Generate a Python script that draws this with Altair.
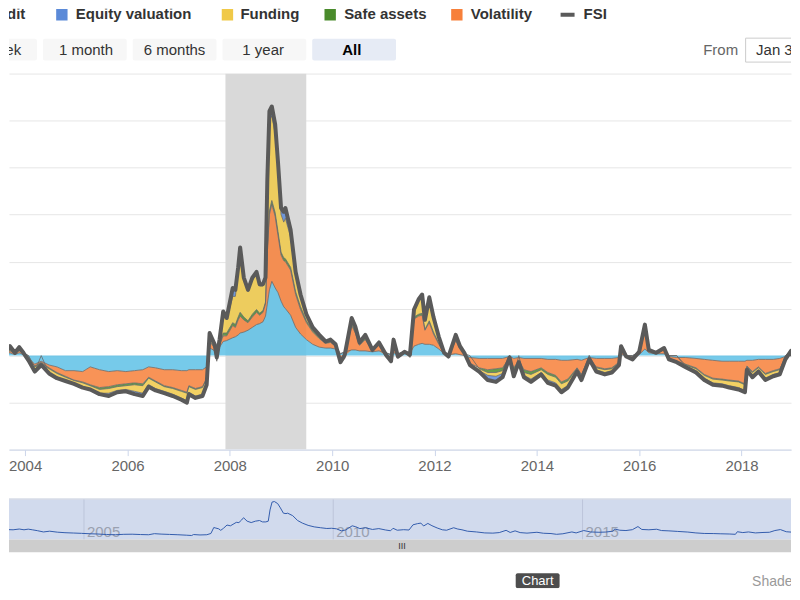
import altair as alt
import pandas as pd

# ---------------- data ----------------
dates = [
    # 2003
    "2003-06-15", "2003-08-01", "2003-09-15", "2003-10-20", "2003-11-20", "2003-12-20",
    # 2004
    "2004-01-25", "2004-03-10", "2004-04-25", "2004-06-20", "2004-08-15", "2004-10-15", "2004-12-15",
    # 2005
    "2005-02-15", "2005-04-10", "2005-06-15", "2005-08-20", "2005-10-20", "2005-12-20",
    # 2006
    "2006-02-20", "2006-04-20", "2006-06-01", "2006-07-20", "2006-09-20", "2006-11-20",
    # 2007
    "2007-01-20", "2007-03-01", "2007-03-15", "2007-05-01", "2007-06-20", "2007-07-20", "2007-08-10",
    "2007-08-25", "2007-09-15", "2007-09-30", "2007-10-20", "2007-11-15", "2007-12-10",
    # 2008
    "2008-01-22", "2008-02-10", "2008-03-01", "2008-03-15", "2008-04-10", "2008-05-10", "2008-06-10",
    "2008-07-10", "2008-08-01", "2008-08-25", "2008-09-12", "2008-09-25", "2008-10-10", "2008-10-27",
    "2008-11-20", "2008-12-10",
    # 2009
    "2009-01-01", "2009-01-20", "2009-02-01", "2009-03-10", "2009-04-15", "2009-05-20", "2009-07-01",
    "2009-08-15", "2009-10-01", "2009-11-15", "2009-12-20",
    # 2010
    "2010-01-25", "2010-03-01", "2010-04-01", "2010-05-20", "2010-06-15", "2010-07-15", "2010-08-25",
    "2010-10-15", "2010-12-01",
    # 2011
    "2011-01-20", "2011-02-25", "2011-03-15", "2011-04-15", "2011-06-01", "2011-07-10", "2011-08-08",
    "2011-09-10", "2011-10-05", "2011-10-25", "2011-11-25", "2011-12-25",
    # 2012
    "2012-02-01", "2012-03-10", "2012-04-10", "2012-06-01", "2012-07-01", "2012-08-01", "2012-09-10",
    "2012-11-15",
    # 2013
    "2013-01-15", "2013-03-15", "2013-05-01", "2013-06-20", "2013-07-20", "2013-08-25", "2013-10-01",
    "2013-11-20",
    # 2014
    "2014-02-01", "2014-03-20", "2014-05-15", "2014-06-25", "2014-08-10", "2014-10-15", "2014-11-15",
    # 2015
    "2015-01-10", "2015-03-01", "2015-05-01", "2015-06-20", "2015-08-10", "2015-08-25", "2015-10-01",
    "2015-11-15",
    # 2016
    "2016-01-01", "2016-02-11", "2016-03-10", "2016-05-01", "2016-06-27", "2016-08-01", "2016-09-25",
    "2016-11-25",
    # 2017
    "2017-02-10", "2017-04-10", "2017-06-10", "2017-08-15", "2017-10-05", "2017-12-10",
    # 2018
    "2018-01-25", "2018-02-08", "2018-03-20", "2018-05-01", "2018-06-20", "2018-08-15", "2018-10-01",
    "2018-11-10", "2018-12-20",
    # 2019
    "2019-02-01", "2019-03-15", "2019-04-30",
]

credit = [
    0.1, 0.1, 0.3, 0.1, 0.3, 0.1,
    -0.3, -0.9, -0.6, -1.0, -1.2, -1.6, -1.6,
    -1.7, -1.2, -1.5, -1.7, -1.6, -1.7,
    -1.6, -1.5, -1.2, -1.3, -1.5, -1.5,
    -1.6, -1.6, -1.5, -1.5, -1.5, -1.2, 0.8, 0.7, 0.5, 0.2, 0.9, 1.5, 1.6,
    1.9, 2.0, 2.2, 2.4, 2.5, 2.7, 3.0, 3.3, 3.4, 3.6, 4.2, 5.5, 7.0, 7.9, 7.2, 6.7,
    5.8, 5.2, 5.0, 4.3, 3.0, 2.3, 1.7, 1.2, 0.9, 0.8, 0.8,
    0.7, 0.2, 0.4, 0.6, 0.6, 0.5, 0.5, 0.4, 0.5,
    0.3, 0.1, 0.3, 0.2, 0.3, 0.3, 1.0, 1.2, 1.3, 1.2, 1.2, 1.1,
    0.7, 0.2, 0.1, 0.2, 0.1, 0.0, -0.2, -0.3,
    -0.3, -0.3, -0.3, -0.1, -0.3, -0.2, -0.3, -0.3,
    -0.3, -0.4, -0.4, -0.5, -0.5, -0.4, -0.5,
    -0.2, -0.3, -0.3, -0.3, -0.2, 0.1, 0.0, -0.1,
    0.1, 0.7, 0.3, 0.2, 0.2, -0.1, -0.2, -0.2,
    -0.3, -0.4, -0.5, -0.6, -0.6, -0.6,
    -0.6, -0.5, -0.5, -0.4, -0.4, -0.4, -0.3, -0.1, 0.1,
    -0.3, -0.4, -0.3,
]

equity_valuation = [
    0.05, 0.0, 0.1, 0.0, 0.1, 0.0,
    0.0, -0.1, 0.0, -0.1, -0.1, -0.1, -0.05,
    -0.1, -0.1, -0.1, -0.3, -0.2, -0.2,
    -0.3, -0.3, -0.2, -0.2, -0.2, -0.2,
    -0.2, -0.2, -0.2, -0.2, -0.2, -0.1, 0.1, 0.1, 0.0, 0.0, 0.0, 0.2, 0.2,
    0.9, 0.7, 0.5, 0.6, 0.3, 0.2, 0.3, 0.3, 0.2, 0.2, 0.2, 0.5, 1.0, 1.0, 1.0, 0.7,
    0.7, 1.1, 1.1, 0.8, 0.4, 0.3, 0.2, 0.1, 0.1, 0.0, 0.0,
    0.0, -0.1, 0.0, 0.2, 0.2, 0.0, 0.1, 0.0, 0.0,
    0.0, -0.1, 0.1, 0.0, 0.0, 0.0, 0.3, 0.2, 0.2, 0.1, 0.2, 0.1,
    0.1, 0.0, 0.0, 0.1, 0.0, 0.0, -0.1, -0.1,
    -0.5, -0.6, -0.4, 0.0, -0.3, 0.0, -0.2, -0.3,
    -0.2, -0.3, -0.3, -0.3, -0.2, -0.1, -0.2,
    0.0, -0.2, -0.2, -0.2, -0.1, 0.05, 0.0, 0.0,
    0.0, 0.2, 0.0, 0.0, 0.0, 0.0, 0.0, -0.1,
    -0.2, -0.2, -0.2, -0.2, -0.2, -0.2,
    -0.2, -0.1, -0.2, -0.2, -0.2, -0.2, -0.2, 0.0, 0.0,
    -0.1, -0.1, -0.1,
]

funding = [
    0.15, 0.1, 0.3, 0.1, 0.2, 0.1,
    -0.1, -0.4, -0.2, -0.4, -0.4, -0.3, -0.3,
    -0.4, -0.3, -0.4, -0.5, -0.4, -0.4,
    -0.7, -0.8, -0.7, -0.7, -0.5, -0.6,
    -0.7, -0.8, -0.6, -0.7, -0.7, -0.5, 0.6, 0.5, 0.3, 0.2, 0.5, 2.1, 1.4,
    2.8, 3.0, 4.8, 6.3, 3.9, 3.1, 3.6, 3.7, 2.9, 2.6, 2.4, 6.8, 9.6, 9.0, 8.4, 6.7,
    4.0, 3.8, 4.3, 3.2, 1.7, 1.0, 0.5, 0.2, 0.1, 0.1, 0.2,
    0.1, -0.2, -0.1, 0.4, 0.3, 0.2, 0.2, 0.05, 0.2,
    0.0, -0.1, 0.2, -0.1, 0.0, -0.1, 0.5, 1.4, 1.8, 0.9, 2.3, 1.5,
    0.6, 0.1, -0.1, 0.4, 0.2, 0.1, -0.1, -0.2,
    -0.3, -0.4, -0.3, 0.0, -0.3, -0.1, -0.3, -0.5,
    -0.3, -0.6, -0.6, -0.6, -0.5, -0.2, -0.3,
    -0.1, -0.2, -0.3, -0.2, -0.1, 0.1, 0.0, -0.1,
    0.1, 0.4, 0.1, 0.0, 0.1, -0.1, -0.1, -0.1,
    -0.2, -0.3, -0.4, -0.4, -0.5, -0.6,
    -0.6, -0.2, -0.3, -0.2, -0.4, -0.3, -0.3, -0.1, 0.1,
    -0.2, -0.3, -0.2,
]

safe_assets = [
    0.05, 0.05, 0.1, 0.0, 0.1, 0.0,
    0.0, -0.1, -0.1, -0.1, -0.1, -0.1, -0.05,
    -0.1, -0.1, -0.2, -0.2, -0.2, -0.2,
    -0.2, -0.2, -0.1, -0.1, -0.1, -0.1,
    -0.1, -0.1, -0.1, -0.1, -0.1, -0.1, 0.1, 0.1, 0.1, 0.0, 0.1, 0.3, 0.3,
    0.3, 0.3, 0.3, 0.4, 0.3, 0.2, 0.3, 0.3, 0.2, 0.2, 0.2, 0.4, 0.4, 0.4, 0.4, 0.4,
    0.3, 0.3, 0.3, 0.3, 0.3, 0.3, 0.2, 0.2, 0.2, 0.1, 0.1,
    0.1, 0.0, 0.0, 0.2, 0.2, 0.1, 0.2, 0.05, 0.1,
    0.0, 0.0, 0.1, 0.0, 0.0, 0.0, 0.2, 0.2, 0.2, 0.1, 0.2, 0.2,
    0.1, 0.0, 0.0, 0.1, 0.1, 0.0, 0.0, -0.1,
    -0.3, -0.4, -0.3, 0.0, -0.3, -0.1, -0.3, -0.3,
    -0.2, -0.2, -0.2, -0.2, -0.2, -0.1, -0.1,
    0.0, -0.1, -0.1, -0.1, -0.1, 0.05, 0.0, 0.0,
    0.0, 0.2, 0.0, 0.0, 0.1, 0.0, 0.0, -0.1,
    -0.1, -0.1, -0.1, -0.1, -0.1, -0.1,
    -0.1, -0.1, -0.1, -0.1, -0.1, -0.1, -0.1, 0.0, 0.0,
    -0.1, -0.1, -0.1,
]

volatility = [
    0.15, 0.05, 0.2, 0.1, 0.2, 0.1,
    -0.1, -0.2, -0.1, -0.3, -0.6, -0.6, -1.0,
    -1.1, -1.9, -1.9, -1.6, -1.5, -1.3,
    -1.3, -1.5, -1.1, -1.4, -1.7, -1.9,
    -2.1, -2.3, -1.7, -2.0, -1.8, -1.2, 0.8, 0.5, 0.3, -0.6, 0.2, 0.6, 0.5,
    1.3, 1.0, 1.6, 1.8, 1.3, 0.8, 1.1, 1.3, 0.9, 1.0, 1.3, 5.5, 8.0, 8.2, 7.6, 6.1,
    4.9, 4.9, 5.0, 4.8, 3.5, 2.6, 1.8, 1.3, 0.9, 0.5, 0.6,
    0.3, -0.6, -0.2, 2.6, 1.8, 0.6, 1.2, 0.1, 0.6,
    -0.2, -0.5, 1.0, -0.2, 0.1, -0.1, 2.9, 3.0, 3.0, 1.5, 2.3, 1.2,
    0.5, 0.0, -0.1, 1.4, 0.6, 0.2, -0.6, -1.0,
    -1.2, -1.1, -1.0, -0.1, -1.0, -0.3, -1.2, -1.4,
    -1.0, -1.4, -1.7, -2.3, -2.0, -0.9, -1.5,
    -0.1, -0.9, -1.1, -1.0, -0.5, 0.7, -0.1, -0.2,
    0.2, 1.8, 0.2, 0.1, 0.4, -0.2, -0.4, -0.7,
    -1.0, -1.6, -1.9, -1.9, -2.0, -2.1,
    -2.4, -0.6, -1.2, -0.8, -1.5, -1.2, -1.1, -0.2, 0.3,
    -0.8, -1.0, -0.8,
]

series_names = ["Credit", "Equity valuation", "Funding", "Safe assets", "Volatility"]
series_values = [credit, equity_valuation, funding, safe_assets, volatility]
stack_rank = [0, 4, 3, 2, 1]          # distance of each layer from the zero line
fsi_name = "FSI"

recession_start = ["2007-12-01"]
recession_end = ["2009-06-30"]

main_year_ticks = [2004, 2006, 2008, 2010, 2012, 2014, 2016, 2018]
nav_year_labels = [2005, 2010, 2015]

range_buttons = ["1 week", "1 month", "6 months", "1 year", "All"]
selected_button = "All"
from_label = "From"
from_value = "Jan 3, 2000"
footer_button = "Chart"
footer_note = "Shade"
scroll_grip = "III"

for arr in series_values:
    assert len(arr) == len(dates)

# ---------------- styles / layout ----------------
FONT = "Liberation Sans"
series_colors = ["#5ec1e6", "#5b8ad8", "#f0c948", "#4a8b2c", "#f7803a"]
fsi_color = "#5a5a5a"
W = 784                      # page x 8 .. 792
H_HEAD, H_MAIN, H_NAV = 65, 377, 139   # page y 8..73, 73..450, 450..589
NO_STROKE = "transparent"

# legend layout (pixel positions in the header strip)
legend_symbol_x = [-39, 53, 219, 322, 449]
legend_text_x = [-27, 67, 232, 336, 463]
legend_fsi_line = (553, 567)
legend_fsi_text_x = 576

# ---------------- frames ----------------
rows = []
for name, rank, vals in zip(series_names, stack_rank, series_values):
    for d, v in zip(dates, vals):
        rows.append({"date": d, "series": name, "rank": rank, "value": v})
long_df = pd.DataFrame(rows)
fsi_df = pd.DataFrame({"date": dates, "fsi": [round(sum(t), 3) for t in zip(*series_values)]})
rec_df = pd.DataFrame({"start": recession_start, "end": recession_end})

# ---------------- main panel ----------------
x_main = alt.Scale(domain=[alt.DateTime(year=2003, month=9, date=8),
                           alt.DateTime(year=2018, month=12, date=20)])
y_main = alt.Scale(domain=[-10, 30], nice=False, zero=False)
x_axis = alt.Axis(values=[alt.DateTime(year=y, month=1, date=1) for y in main_year_ticks],
                  format="%Y", title=None, grid=False, labelColor="#666666", labelFontSize=15,
                  labelFont=FONT, tickColor="#ccd6eb", domainColor="#ccd6eb", tickSize=6,
                  labelPadding=3, labelOverlap=False, zindex=1)
y_axis = alt.Axis(values=list(range(-10, 35, 5)), grid=True, gridColor="#e6e6e6",
                  labels=False, ticks=False, domain=False, title=None)

rec = alt.Chart(rec_df).mark_rect(color="#d9d9d9", clip=True).encode(
    x=alt.X("start:T", scale=x_main, axis=x_axis),
    x2="end:T",
    y=alt.value(0), y2=alt.value(H_MAIN),
)

stacked = alt.Chart(long_df).transform_stack(
    stack="value", groupby=["date"], as_=["v0", "v1"],
    sort=[alt.SortField("rank", order="ascending")], offset="zero")

areas = stacked.mark_area(opacity=0.85, clip=True).encode(
    x=alt.X("date:T", scale=x_main, axis=x_axis),
    y=alt.Y("v1:Q", scale=y_main, axis=y_axis),
    y2="v0:Q",
    color=alt.Color("series:N", scale=alt.Scale(domain=series_names, range=series_colors), legend=None),
)
edges = stacked.mark_line(clip=True, color="#6a6a6a", strokeWidth=1, opacity=0.8).encode(
    x=alt.X("date:T", scale=x_main, axis=x_axis),
    y=alt.Y("v1:Q", scale=y_main, axis=y_axis),
    detail="series:N",
)
fsi_line = alt.Chart(fsi_df).mark_line(clip=True, color=fsi_color, strokeWidth=4,
                                       strokeJoin="round").encode(
    x=alt.X("date:T", scale=x_main, axis=x_axis),
    y=alt.Y("fsi:Q", scale=y_main, axis=y_axis),
)
main = alt.layer(rec, areas, edges, fsi_line).properties(
    width=W, height=H_MAIN, view=alt.ViewBackground(stroke=NO_STROKE))

# ---------------- header panel ----------------
btn_df = pd.DataFrame({"label": range_buttons,
                       "selected": [b == selected_button for b in range_buttons]})
band = alt.Scale(domain=range_buttons, range=[-56, 388], paddingInner=6 / 90, paddingOuter=0)
btn_rect = alt.Chart(btn_df).mark_bar(cornerRadius=2, clip=True).encode(
    x=alt.X("label:N", scale=band, axis=None, sort=range_buttons),
    y=alt.value(30), y2=alt.value(52),
    color=alt.condition("datum.selected", alt.value("#e6ebf5"), alt.value("#f7f7f7")),
)
btn_text = alt.Chart(btn_df).transform_filter("!datum.selected").mark_text(
    clip=True, fontSize=15, font=FONT, color="#333333", baseline="middle").encode(
    x=alt.X("label:N", scale=band, axis=None, sort=range_buttons),
    y=alt.value(41), text="label:N")
btn_text_sel = alt.Chart(btn_df).transform_filter("datum.selected").mark_text(
    clip=True, fontSize=15, font=FONT, fontWeight="bold", color="#000000", baseline="middle").encode(
    x=alt.X("label:N", scale=band, axis=None, sort=range_buttons),
    y=alt.value(41), text="label:N")

px = alt.Scale(domain=[0, W], range=[0, W])
leg_df = pd.DataFrame({"name": series_names, "color": series_colors,
                       "sx": legend_symbol_x, "tx": legend_text_x})
leg_sym = alt.Chart(leg_df).mark_square(size=130, opacity=1, clip=True).encode(
    x=alt.X("sx:Q", scale=px, axis=None), y=alt.value(6),
    color=alt.Color("color:N", scale=None))
leg_txt_df = pd.DataFrame({"name": series_names + [fsi_name],
                           "tx": legend_text_x + [legend_fsi_text_x]})
leg_txt = alt.Chart(leg_txt_df).mark_text(
    clip=True, align="left", baseline="middle", fontSize=15, fontWeight="bold",
    font=FONT, color="#333333").encode(
    x=alt.X("tx:Q", scale=px, axis=None), y=alt.value(5.5), text="name:N")
leg_fsi = alt.Chart(pd.DataFrame({"a": [legend_fsi_line[0]], "b": [legend_fsi_line[1]]})).mark_rule(
    strokeWidth=4, color=fsi_color, clip=True).encode(
    x=alt.X("a:Q", scale=px, axis=None), x2="b:Q", y=alt.value(6))

one = pd.DataFrame({"from": [from_label], "value": [from_value]})
from_txt = alt.Chart(one).mark_text(align="left", baseline="middle", fontSize=15, font=FONT,
                                    color="#666666", clip=True).encode(
    x=alt.value(696), y=alt.value(41), text="from:N")
input_box = alt.Chart(one).mark_rect(fill="#ffffff", stroke="#cccccc", strokeWidth=1, clip=True).encode(
    x=alt.value(738.5), x2=alt.value(790), y=alt.value(29.5), y2=alt.value(53.5))
input_txt = alt.Chart(one).mark_text(align="left", baseline="middle", fontSize=15, font=FONT,
                                     color="#333333", clip=True).encode(
    x=alt.value(749), y=alt.value(41), text="value:N")

header = alt.layer(btn_rect, btn_text, btn_text_sel, leg_sym, leg_txt, leg_fsi,
                   from_txt, input_box, input_txt).resolve_scale(x="independent").properties(
    width=W, height=H_HEAD, view=alt.ViewBackground(stroke=NO_STROKE))

# ---------------- navigator panel ----------------
x_nav = alt.Scale(domain=[alt.DateTime(year=2003, month=7, date=2),
                          alt.DateTime(year=2019, month=3, date=8)])
y_nav = alt.Scale(domain=[-8.6, 28.4], range=[90, 50], nice=False, zero=False)
nav_df = pd.DataFrame({"date": [f"{y}-01-01" for y in nav_year_labels],
                       "label": [str(y) for y in nav_year_labels]})
misc = pd.DataFrame({"grip": [scroll_grip], "btn": [footer_button], "note": [footer_note]})

nav_bg = alt.Chart(misc).mark_rect(fill="#d1daed").encode(
    x=alt.value(0), x2=alt.value(W), y=alt.value(50), y2=alt.value(90))
nav_border = alt.Chart(misc).mark_rule(color="#c4cbdb", strokeWidth=1).encode(
    x=alt.value(0), x2=alt.value(W), y=alt.value(49.5))
nav_grid = alt.Chart(nav_df).mark_rule(color="#bcc5da", strokeWidth=1).encode(
    x=alt.X("date:T", scale=x_nav, axis=None), y=alt.value(50), y2=alt.value(90))
nav_lbl = alt.Chart(nav_df).mark_text(align="left", baseline="middle", dx=3, fontSize=15,
                                      font=FONT, color="#9aa1b0").encode(
    x=alt.X("date:T", scale=x_nav, axis=None), y=alt.value(83), text="label:N")
nav_line = alt.Chart(fsi_df).mark_line(color="#335cad", strokeWidth=1, clip=True).encode(
    x=alt.X("date:T", scale=x_nav, axis=None),
    y=alt.Y("fsi:Q", scale=y_nav, axis=None))
scroll = alt.Chart(misc).mark_rect(fill="#cdcdcd").encode(
    x=alt.value(0), x2=alt.value(W), y=alt.value(90), y2=alt.value(103))
grip = alt.Chart(misc).mark_text(fontSize=9, font=FONT, color="#333333", baseline="middle").encode(
    x=alt.value(394), y=alt.value(96.5), text="grip:N")
chart_box = alt.Chart(misc).mark_rect(fill="#4d4d4d", cornerRadius=2, clip=True).encode(
    x=alt.value(508), x2=alt.value(552), y=alt.value(124), y2=alt.value(H_NAV))
chart_txt = alt.Chart(misc).mark_text(fontSize=13, font=FONT, color="#ffffff", baseline="middle",
                                      clip=True).encode(
    x=alt.value(530), y=alt.value(132), text="btn:N")
shade_txt = alt.Chart(misc).mark_text(align="left", baseline="middle", fontSize=14, font=FONT,
                                      color="#999999", clip=True).encode(
    x=alt.value(745), y=alt.value(133), text="note:N")

nav = alt.layer(nav_bg, nav_border, nav_grid, nav_lbl, nav_line, scroll, grip,
                chart_box, chart_txt, shade_txt).properties(
    width=W, height=H_NAV, view=alt.ViewBackground(stroke=NO_STROKE))

chart = alt.vconcat(header, main, nav, spacing=0, bounds="flush", padding=0).resolve_scale(
    x="independent", y="independent", color="independent"
).configure_view(stroke=NO_STROKE, strokeWidth=0).configure(
    font=FONT, background="#ffffff",
    style={"cell": {"stroke": NO_STROKE, "strokeWidth": 0},
           "view": {"stroke": NO_STROKE, "strokeWidth": 0}})

chart.save("out.html", embed_options={"renderer": "svg", "actions": False})
